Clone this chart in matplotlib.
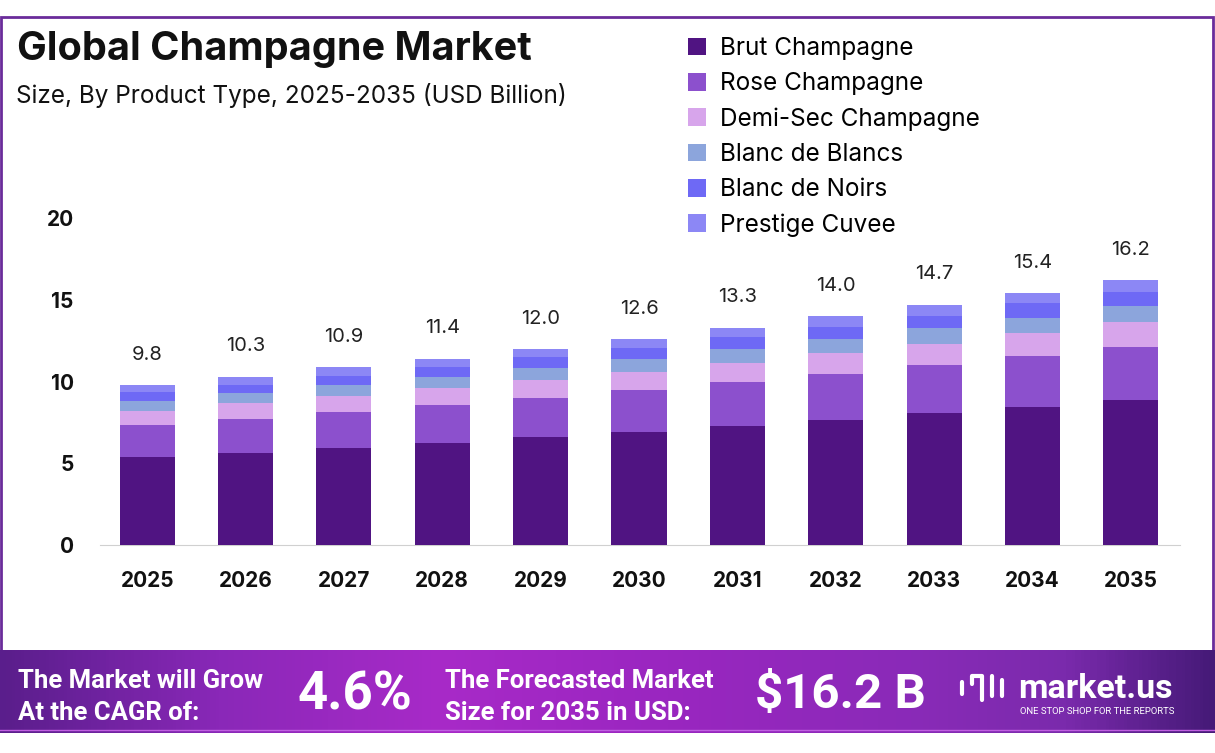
import numpy as np
import matplotlib
matplotlib.use("Agg")
import matplotlib.pyplot as plt
from matplotlib.patches import Rectangle
from matplotlib.colors import LinearSegmentedColormap

plt.rcParams['font.family'] = ['Inter', 'DejaVu Sans']

years = ['2025', '2026', '2027', '2028', '2029', '2030', '2031', '2032', '2033', '2034', '2035']
segments = ['Brut Champagne', 'Rose Champagne', 'Demi-Sec Champagne',
            'Blanc de Blancs', 'Blanc de Noirs', 'Prestige Cuvee']
brut = [5.36, 5.65, 5.95, 6.26, 6.62, 6.93, 7.28, 7.65, 8.05, 8.46, 8.87]
rose = [1.98, 2.06, 2.17, 2.30, 2.39, 2.55, 2.71, 2.81, 2.96, 3.10, 3.22]
demi_sec = [0.87, 0.96, 0.99, 1.02, 1.08, 1.12, 1.16, 1.26, 1.28, 1.42, 1.53]
blanc_blancs = [0.60, 0.61, 0.68, 0.71, 0.75, 0.78, 0.84, 0.86, 1.00, 0.92, 1.02]
blanc_noirs = [0.57, 0.51, 0.55, 0.61, 0.68, 0.65, 0.71, 0.77, 0.73, 0.88, 0.82]
prestige = [0.42, 0.51, 0.56, 0.50, 0.48, 0.57, 0.60, 0.65, 0.68, 0.62, 0.74]
totals = [9.8, 10.3, 10.9, 11.4, 12.0, 12.6, 13.3, 14.0, 14.7, 15.4, 16.2]
cagr = '4.6%'
forecast = '$16.2 B'

colors = ['#501482', '#8c50cd', '#d7a5eb', '#8ca5dc', '#6e69f5', '#8c87f5']

W, H = 1215, 753
fig = plt.figure(figsize=(W / 100, H / 100), dpi=100)

# frame + banner (figure-pixel coords)
bg = fig.add_axes([0, 0, 1, 1])
bg.set_xlim(0, W)
bg.set_ylim(H, 0)
bg.axis('off')
bg.add_patch(Rectangle((1, 17), W - 3, 635, fill=False, edgecolor='#6a2c9a', lw=2))

grad = LinearSegmentedColormap.from_list('ban', [
    (0.0, '#5a1e8c'), (0.18, '#8a28b8'), (0.36, '#a82ac8'), (0.55, '#9a26c0'),
    (0.75, '#8a2ab8'), (0.88, '#7a2aac'), (1.0, '#461a78')])
g = np.linspace(0, 1, 400).reshape(1, -1)
bg.imshow(g, cmap=grad, extent=[0, W, 733, 650], aspect='auto', zorder=1)
bg.plot([0, W], [730, 730], color='#c060e0', lw=1, zorder=2)

ax = fig.add_axes([100 / W, 1 - 545 / H, 1080 / W, 327 / H])
x = np.arange(len(years))
bottom = np.zeros(len(years))
for name, vals, c in zip(segments, [brut, rose, demi_sec, blanc_blancs, blanc_noirs, prestige], colors):
    ax.bar(x, vals, 0.56, bottom=bottom, color=c, label=name, zorder=3)
    bottom += np.array(vals)

for xi, top, t in zip(x, bottom, totals):
    ax.text(xi, top + 1.3, f'{t:.1f}', ha='center', va='bottom', fontsize=14.5, color='#222222')

ax.set_xlim(-0.48, 10.5)
ax.set_ylim(0, 20)
ax.set_yticks([0, 5, 10, 15, 20])
ax.set_xticks(x)
ax.set_xticklabels(years)
ax.tick_params(axis='both', length=0, labelsize=15)
ax.tick_params(axis='y', pad=19)
ax.tick_params(axis='x', pad=19)
for lbl in ax.get_xticklabels() + ax.get_yticklabels():
    lbl.set_fontweight('bold')
    lbl.set_color('#111111')
for s in ['top', 'right', 'left']:
    ax.spines[s].set_visible(False)
ax.spines['bottom'].set_color('#d0d0d0')
ax.patch.set_alpha(0)

fig.legend(loc='upper left', bbox_to_anchor=(688 / W, 1 - 37 / H), frameon=False,
           fontsize=17.5, handlelength=0.75, handleheight=0.75, handletextpad=0.55,
           labelspacing=0.5, borderaxespad=0, borderpad=0)

fig.text(17 / W, 1 - 50 / H, 'Global Champagne Market', fontsize=28.5, fontweight='bold',
         color='#111111', va='center', ha='left')
fig.text(16 / W, 1 - 96 / H, 'Size, By Product Type, 2025-2035 (USD Billion)', fontsize=17.5,
         color='#111111', va='center', ha='left')

# banner texts
fig.text(18 / W, 1 - 681 / H, 'The Market will Grow', fontsize=18.5, fontweight='bold',
         color='white', va='center', ha='left', family='Roboto')
fig.text(18 / W, 1 - 713 / H, 'At the CAGR of:', fontsize=18.5, fontweight='bold',
         color='white', va='center', ha='left', family='Roboto')
fig.text(298 / W, 1 - 695 / H, cagr, fontsize=38, fontweight='bold',
         color='white', va='center', ha='left', family='Roboto')
fig.text(445 / W, 1 - 681 / H, 'The Forecasted Market', fontsize=18.5, fontweight='bold',
         color='white', va='center', ha='left', family='Roboto')
fig.text(445 / W, 1 - 713 / H, 'Size for 2035 in USD:', fontsize=18.5, fontweight='bold',
         color='white', va='center', ha='left', family='Roboto')
fig.text(755 / W, 1 - 695 / H, forecast, fontsize=35.5, fontweight='bold',
         color='white', va='center', ha='left', family='Roboto')
fig.text(1018 / W, 1 - 689 / H, 'market.us', fontsize=24.5, fontweight='bold',
         color='white', va='center', ha='left', family='Roboto')
fig.text(1020 / W, 1 - 712 / H, 'ONE STOP SHOP FOR THE REPORTS', fontsize=6.8,
         color='white', va='center', ha='left', family='Roboto')
# small logo mark
bg.plot([962, 962], [682, 694], color='white', lw=3, solid_capstyle='round', zorder=3)
bg.plot([972, 972, 982, 982], [684, 676, 676, 700], color='white', lw=3,
        solid_capstyle='round', zorder=3)
bg.plot([992, 992], [676, 696], color='white', lw=3, solid_capstyle='round', zorder=3)
bg.plot([1002, 1002], [680, 696], color='white', lw=3, solid_capstyle='round', zorder=3)

fig.savefig('out.png', dpi=100)
